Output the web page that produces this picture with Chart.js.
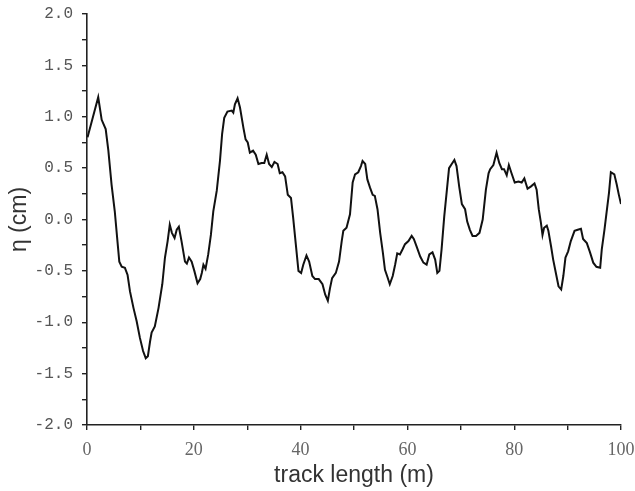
<!DOCTYPE html>
<html>
<head>
<meta charset="utf-8">
<script src="https://cdn.jsdelivr.net/npm/chart.js@4"></script>
<style>
  html, body { margin: 0; padding: 0; background: #fff; }
  #wrap { width: 635px; height: 491px; }
</style>
</head>
<body>
<div id="wrap"><canvas id="chart"></canvas></div>
<script>
// track position (m)
const trackX = [
  0.1, 2.1, 2.75, 3.5, 4.0, 4.6, 5.2, 5.7, 6.05, 6.5, 7.1, 7.6, 8.05, 8.7, 9.3, 9.9, 10.5, 11.0, 11.4, 11.8,
  12.1, 12.7, 13.4, 14.1, 14.6, 15.1, 15.5, 15.9, 16.4, 16.8, 17.2, 17.7, 18.35, 18.7, 19.1, 19.6, 20.1, 20.7, 21.2, 21.5,
  21.8, 22.2, 22.7, 23.2, 23.65, 24.3, 24.9, 25.3, 25.7, 26.3, 27.1, 27.4, 27.7, 28.2, 28.65, 29.3, 29.7, 30.1, 30.5, 31.1,
  31.6, 32.1, 32.7, 33.2, 33.65, 34.1, 34.6, 35.1, 35.7, 36.1, 36.6, 37.1, 37.6, 38.2, 38.6, 39.1, 39.6, 40.1, 40.5, 41.1,
  41.6, 42.2, 42.7, 43.4, 44.1, 44.6, 45.1, 45.5, 45.9, 46.6, 47.2, 47.7, 48.0, 48.6, 49.25, 49.75, 50.2, 50.8, 51.3, 51.6,
  52.1, 52.5, 53.0, 53.5, 53.9, 54.4, 54.9, 55.4, 55.8, 56.2, 56.7, 57.25, 57.7, 58.1, 58.6, 59.1, 59.55, 60.2, 60.8, 61.2,
  61.7, 62.4, 63.0, 63.6, 64.1, 64.7, 65.2, 65.6, 66.0, 66.4, 66.9, 67.4, 67.8, 68.3, 68.8, 69.2, 69.7, 70.2, 70.8, 71.2,
  71.7, 72.2, 72.85, 73.5, 74.1, 74.7, 75.2, 75.5, 76.1, 76.7, 77.2, 77.7, 78.1, 78.6, 79.0, 79.5, 80.1, 80.8, 81.4, 81.9,
  82.5, 83.1, 83.8, 84.2, 84.6, 85.0, 85.3, 85.6, 86.1, 86.4, 86.9, 87.3, 87.8, 88.3, 88.8, 89.2, 89.6, 90.1, 90.6, 91.3,
  91.9, 92.5, 92.9, 93.6, 94.2, 94.8, 95.4, 96.1, 96.4, 96.9, 97.3, 97.75, 98.1, 98.75, 99.2, 99.6, 100.0
];

// irregularity eta (cm)
const etaCm = [
  0.80, 1.19, 0.97, 0.88, 0.67, 0.34, 0.08, -0.21, -0.41, -0.46, -0.47, -0.54, -0.70, -0.86, -0.99, -1.15, -1.28, -1.35, -1.33, -1.19,
  -1.10, -1.04, -0.86, -0.63, -0.37, -0.21, -0.05, -0.13, -0.18, -0.10, -0.07, -0.21, -0.41, -0.43, -0.37, -0.41, -0.50, -0.62, -0.58, -0.52,
  -0.44, -0.48, -0.34, -0.15, 0.08, 0.28, 0.57, 0.83, 0.99, 1.05, 1.06, 1.04, 1.12, 1.18, 1.09, 0.89, 0.78, 0.75, 0.65, 0.67,
  0.63, 0.54, 0.55, 0.55, 0.63, 0.54, 0.51, 0.56, 0.54, 0.45, 0.46, 0.42, 0.24, 0.21, 0.02, -0.24, -0.50, -0.52, -0.44, -0.35,
  -0.41, -0.55, -0.58, -0.58, -0.63, -0.73, -0.79, -0.67, -0.57, -0.52, -0.41, -0.21, -0.11, -0.08, 0.05, 0.36, 0.44, 0.46, 0.52, 0.57,
  0.54, 0.39, 0.31, 0.24, 0.23, 0.10, -0.13, -0.32, -0.49, -0.55, -0.63, -0.55, -0.44, -0.33, -0.34, -0.29, -0.24, -0.21, -0.16, -0.19,
  -0.26, -0.36, -0.42, -0.44, -0.34, -0.32, -0.39, -0.52, -0.50, -0.29, 0.03, 0.29, 0.50, 0.54, 0.58, 0.52, 0.32, 0.15, 0.10, -0.02,
  -0.10, -0.16, -0.16, -0.13, 0.00, 0.29, 0.45, 0.49, 0.53, 0.65, 0.55, 0.49, 0.49, 0.43, 0.53, 0.45, 0.36, 0.37, 0.36, 0.40,
  0.30, 0.32, 0.35, 0.29, 0.10, -0.03, -0.15, -0.08, -0.06, -0.11, -0.26, -0.39, -0.52, -0.65, -0.68, -0.55, -0.37, -0.31, -0.21, -0.11,
  -0.10, -0.09, -0.19, -0.23, -0.32, -0.42, -0.46, -0.47, -0.29, -0.10, 0.07, 0.26, 0.46, 0.44, 0.34, 0.24, 0.15
];

const xTickLabels = [0, 20, 40, 60, 80, 100];
const yTickLabels = [-2.0, -1.5, -1.0, -0.5, 0.0, 0.5, 1.0, 1.5, 2.0];

const points = trackX.map((x, i) => ({x: x, y: etaCm[i]}));

const ctx = document.getElementById('chart').getContext('2d');

new Chart(ctx, {
  type: 'line',
  data: {
    datasets: [{
      data: points,
      borderColor: '#111',
      borderWidth: 2,
      pointRadius: 0,
      tension: 0,
      fill: false
    }]
  },
  options: {
    responsive: true,
    maintainAspectRatio: false,
    animation: false,
    layout: { padding: { top: 14, right: 14, left: 0, bottom: 0 } },
    plugins: { legend: { display: false }, tooltip: { enabled: false } },
    scales: {
      x: {
        type: 'linear',
        min: 0,
        max: 100,
        afterBuildTicks: scale => {
          scale.ticks = [0, 10, 20, 30, 40, 50, 60, 70, 80, 90, 100].map(v => ({value: v}));
        },
        afterFit: scale => {
          scale.height = 66;
          scale.paddingLeft = 0;
          scale.paddingRight = 0;
        },
        border: { display: true, color: '#222', width: 1.6 },
        grid: { display: true, drawOnChartArea: false, drawTicks: true, tickLength: 5, color: '#222', lineWidth: 1.4 },
        ticks: {
          padding: 9,
          color: '#666',
          maxRotation: 0,
          autoSkip: false,
          font: { family: 'Liberation Serif', size: 18 },
          callback: v => xTickLabels.includes(v) ? String(v) : ''
        },
        title: {
          display: true,
          text: 'track length (m)',
          color: '#333',
          font: { family: 'Liberation Sans', size: 23 },
          padding: { top: 0, bottom: 2 }
        }
      },
      y: {
        type: 'linear',
        min: -2,
        max: 2,
        afterBuildTicks: scale => {
          const t = [];
          for (let i = 0; i <= 16; i++) t.push({value: -2 + i * 0.25});
          scale.ticks = t;
        },
        afterFit: scale => {
          scale.width = 87;
          scale.paddingTop = 0;
          scale.paddingBottom = 0;
        },
        border: { display: true, color: '#222', width: 1.6 },
        grid: { display: true, drawOnChartArea: false, drawTicks: true, tickLength: 5, color: '#222', lineWidth: 1.4 },
        ticks: {
          padding: 9,
          color: '#555',
          autoSkip: false,
          font: { family: 'Liberation Mono', size: 16 },
          callback: v => {
            const hit = yTickLabels.find(t => Math.abs(t - v) < 1e-6);
            return hit === undefined ? '' : hit.toFixed(1);
          }
        },
        title: {
          display: true,
          text: 'η (cm)',
          color: '#333',
          font: { family: 'Liberation Sans', size: 23 },
          padding: { top: 6, bottom: 0 }
        }
      }
    }
  }
});
</script>
</body>
</html>
